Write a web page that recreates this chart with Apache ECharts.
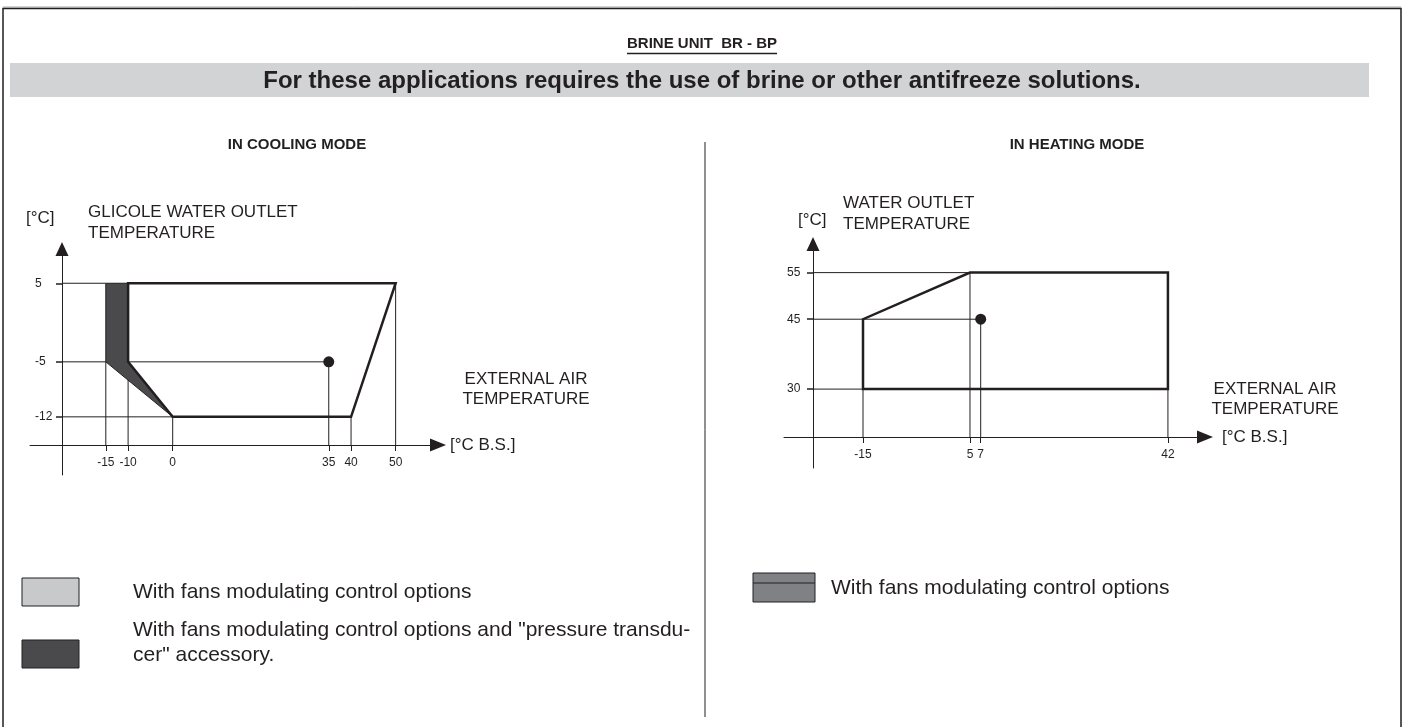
<!DOCTYPE html>
<html>
<head>
<meta charset="utf-8">
<script src="https://cdn.jsdelivr.net/npm/echarts@6/dist/echarts.min.js"></script>
<style>
html, body { margin: 0; padding: 0; background: #fff; }
#chart { width: 1405px; height: 727px; }
</style>
</head>
<body>
<div id="chart"></div>
<script>
// cooling mode envelope (x = external air °C, y = glycol water outlet °C)
const coolXTicks = [-15, -10, 0, 35, 40, 50];
const coolYTicks = [5, -5, -12];
const coolEnvelope = [[-10, 5], [50, 5], [40, -12], [0, -12], [-10, -5]];
const coolDarkZone = [[-15, 5], [-10, 5], [-10, -5], [0, -12], [-15, -5]];
const coolPoint = [[35, -5]];
const coolVGuides = [[-15, -5], [-10, 5], [0, -12], [35, -5], [40, -12], [50, 5]];
const coolHGuides = [[-15, 5], [35, -5], [0, -12]];

// heating mode envelope (x = external air °C, y = water outlet °C)
const heatXTicks = [-15, 5, 7, 42];
const heatYTicks = [55, 45, 30];
const heatEnvelope = [[-15, 30], [-15, 45], [5, 55], [42, 55], [42, 30]];
const heatPoint = [[7, 45]];
const heatVGuides = [[-15, 30], [5, 55], [7, 45], [42, 30]];
const heatHGuides = [[5, 55], [7, 45], [-15, 30]];

const INK = '#231f20';
const FONT = '"Liberation Sans", Arial, sans-serif';

// pixel offsets of the axis lines inside each grid
const axisOff = [{ x: -30, y: -32 }, { x: -31, y: -29 }];

const chart = echarts.init(document.getElementById('chart'));

function xAxisOpt(idx, min, max, ticks) {
  return {
    type: 'value', gridIndex: idx, min: min, max: max,
    offset: axisOff[idx].x,
    splitLine: { show: false },
    axisLine: { onZero: false, symbol: ['none', 'triangle'], symbolSize: [13, 16], lineStyle: { color: INK, width: 1 } },
    axisTick: { customValues: ticks, length: 6, lineStyle: { color: INK } },
    axisLabel: { customValues: ticks, margin: 12, fontSize: 12, color: INK, fontFamily: FONT }
  };
}
function yAxisOpt(idx, min, max, ticks, margin) {
  return {
    type: 'value', gridIndex: idx, min: min, max: max,
    offset: axisOff[idx].y,
    splitLine: { show: false },
    axisLine: { onZero: false, symbol: ['none', 'triangle'], symbolSize: [13, 14], lineStyle: { color: INK, width: 1 } },
    axisTick: { customValues: ticks, length: 6, lineStyle: { color: INK, width: 1.5 } },
    axisLabel: { customValues: ticks, margin: margin, align: 'left', fontSize: 12, color: INK, fontFamily: FONT }
  };
}

function polygonSeries(idx, pts, fill, width, z) {
  return {
    type: 'custom', xAxisIndex: idx, yAxisIndex: idx, silent: true, z: z,
    data: pts,
    renderItem: function (params, api) {
      if (params.dataIndex !== 0) return null;
      return {
        type: 'polygon',
        shape: { points: pts.map(function (p) { return api.coord(p); }) },
        style: { fill: fill, stroke: INK, lineWidth: width, lineJoin: 'miter' }
      };
    }
  };
}

function guideSeries(idx, pts, dir) {
  return {
    type: 'custom', xAxisIndex: idx, yAxisIndex: idx, silent: true, z: 1,
    data: pts,
    renderItem: function (params, api) {
      const p = api.coord([api.value(0), api.value(1)]);
      const cs = params.coordSys;
      let x2 = p[0], y2 = p[1];
      if (dir === 'v') y2 = cs.y + cs.height + axisOff[idx].x;
      else x2 = cs.x - axisOff[idx].y;
      return { type: 'line', shape: { x1: p[0], y1: p[1], x2: x2, y2: y2 }, style: { stroke: INK, lineWidth: 1 } };
    }
  };
}

function txt(x, y, text, size, opts) {
  return {
    type: 'text', x: x, y: y, silent: true,
    style: Object.assign({ text: text, fill: INK, font: 'normal ' + size + 'px ' + FONT, textVerticalAlign: 'middle' }, opts || {})
  };
}

// underline width for the heading
const ctx = document.createElement('canvas').getContext('2d');
ctx.font = 'bold 15px ' + FONT;
const headW = ctx.measureText('BRINE UNIT  BR - BP').width;

const option = {
  animation: false,
  grid: [
    { left: 30, top: 249, width: 408, height: 226 },
    { left: 784, top: 244, width: 421, height: 224 }
  ],
  xAxis: [xAxisOpt(0, -32, 59.5, coolXTicks), xAxisOpt(1, -29.77, 48.93, heatXTicks)],
  yAxis: [yAxisOpt(0, -19.4, 9.36, coolYTicks, 27), yAxisOpt(1, 13.07, 61.14, heatYTicks, 26)],
  series: [
    guideSeries(0, coolVGuides, 'v'),
    guideSeries(0, coolHGuides, 'h'),
    polygonSeries(0, coolDarkZone, '#4a4a4c', 1, 2),
    polygonSeries(0, coolEnvelope, 'none', 2.5, 3),
    { type: 'scatter', xAxisIndex: 0, yAxisIndex: 0, data: coolPoint, symbolSize: 11, itemStyle: { color: INK, opacity: 1 }, z: 4 },
    guideSeries(1, heatVGuides, 'v'),
    guideSeries(1, heatHGuides, 'h'),
    polygonSeries(1, heatEnvelope, 'none', 2.5, 3),
    { type: 'scatter', xAxisIndex: 1, yAxisIndex: 1, data: heatPoint, symbolSize: 11, itemStyle: { color: INK, opacity: 1 }, z: 4 }
  ],
  graphic: [
    { type: 'line', shape: { x1: 3, y1: 7, x2: 1401, y2: 7 }, style: { stroke: '#a7a9ac', lineWidth: 1 }, silent: true },
    { type: 'rect', shape: { x: 3, y: 8.5, width: 1398, height: 740 }, style: { fill: 'none', stroke: INK, lineWidth: 1.5 }, silent: true },
    { type: 'rect', shape: { x: 10, y: 63, width: 1359, height: 34 }, style: { fill: '#d1d3d4' }, silent: true },
    { type: 'line', shape: { x1: 705, y1: 142, x2: 705, y2: 717 }, style: { stroke: INK, lineWidth: 1 }, silent: true },
    txt(702, 44, 'BRINE UNIT  BR - BP', 15, { font: 'bold 15px ' + FONT, textAlign: 'center' }),
    { type: 'line', shape: { x1: 702 - headW / 2, y1: 53.5, x2: 702 + headW / 2, y2: 53.5 }, style: { stroke: INK, lineWidth: 1.3 }, silent: true },
    txt(702, 81, 'For these applications requires the use of brine or other antifreeze solutions.', 24, { font: 'bold 24px ' + FONT, textAlign: 'center' }),
    txt(297, 145, 'IN COOLING MODE', 15, { font: 'bold 15px ' + FONT, textAlign: 'center' }),
    txt(1077, 145, 'IN HEATING MODE', 15, { font: 'bold 15px ' + FONT, textAlign: 'center' }),

    txt(26, 218, '[°C]', 17),
    txt(88, 212, 'GLICOLE WATER OUTLET', 17),
    txt(88, 233, 'TEMPERATURE', 17),
    txt(526, 379, 'EXTERNAL AIR', 17, { textAlign: 'center' }),
    txt(526, 399, 'TEMPERATURE', 17, { textAlign: 'center' }),
    txt(450, 445, '[°C B.S.]', 17),

    txt(798, 220, '[°C]', 17),
    txt(843, 203, 'WATER OUTLET', 17),
    txt(843, 224, 'TEMPERATURE', 17),
    txt(1275, 389, 'EXTERNAL AIR', 17, { textAlign: 'center' }),
    txt(1275, 409, 'TEMPERATURE', 17, { textAlign: 'center' }),
    txt(1222, 437, '[°C B.S.]', 17),

    { type: 'rect', shape: { x: 22, y: 578, width: 57, height: 28 }, style: { fill: '#c8c9cb', stroke: INK, lineWidth: 1 }, silent: true },
    txt(133, 592, 'With fans modulating control options', 21),
    { type: 'rect', shape: { x: 22, y: 640, width: 57, height: 28 }, style: { fill: '#4a4a4c', stroke: INK, lineWidth: 1 }, silent: true },
    txt(133, 630, 'With fans modulating control options and "pressure transdu-', 21),
    txt(133, 655, 'cer" accessory.', 21),

    { type: 'rect', shape: { x: 753, y: 573, width: 62, height: 29 }, style: { fill: '#808184', stroke: INK, lineWidth: 1 }, silent: true },
    { type: 'line', shape: { x1: 753, y1: 583, x2: 815, y2: 583 }, style: { stroke: INK, lineWidth: 1 }, silent: true },
    txt(831, 588, 'With fans modulating control options', 21)
  ]
};

chart.setOption(option);
window.addEventListener('resize', function () { chart.resize(); });
</script>
</body>
</html>
